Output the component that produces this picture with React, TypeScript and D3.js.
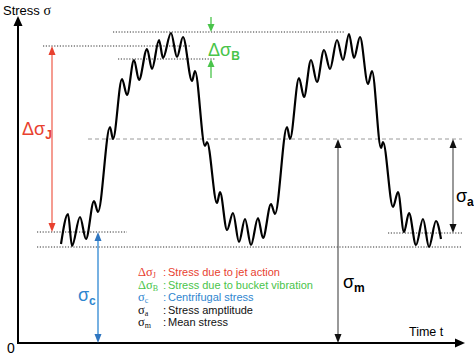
import React from "react";
import * as d3 from "d3";

// time (px offset from axis) and stress values
const curveTime = [43, 50, 54, 62, 68, 76, 80, 92, 95, 104, 109, 116, 121, 129, 134, 141, 145, 153, 159, 165, 174, 177, 187, 189, 199, 202, 209, 215, 221, 227, 233, 240, 245, 253, 257, 269, 272, 281, 286, 293, 299, 306, 312, 319, 325, 331, 336, 342, 350, 354, 363, 365, 375, 380, 386, 391, 398, 405, 411, 418, 423];
const curveStress = [99, 129, 97, 126, 104, 142, 131, 216, 204, 264, 248, 283, 263, 294, 274, 303, 285, 310, 286, 306, 262, 272, 197, 201, 140, 151, 113, 130, 101, 124, 98, 125, 105, 139, 129, 216, 204, 265, 246, 283, 261, 293, 274, 303, 283, 309, 285, 306, 259, 272, 195, 201, 136, 151, 111, 130, 98, 124, 96, 122, 104];

// reference levels
const levelStress = [311, 297, 284, 204, 111, 110, 96];
const levelStart = [95, 25, 100, 70, 19, 370, 19];
const levelEnd = [327, 172, 197, 444, 109, 444, 444];
const levelDashed = [false, false, false, true, false, false, false];

const legendSymbols = ["Δσ", "Δσ", "σ", "σ", "σ"];
const legendSubs = ["J", "B", "c", "a", "m"];
const legendTexts = [
  "Stress due to jet action",
  "Stress due to bucket vibration",
  "Centrifugal stress",
  "Stress amptlitude",
  "Mean stress",
];
const legendColors = ["#e8412f", "#49c44a", "#2f86cf", "#111", "#111"];

const W = 474;
const H = 356;

export default function App() {
  const x = d3.scaleLinear().domain([0, 445]).range([18, 463]);
  const y = d3.scaleLinear().domain([0, 320]).range([343, 23]);
  const pts = curveTime.map((t, i) => [t, curveStress[i]] as [number, number]);
  const line = d3
    .line<[number, number]>()
    .x((d) => x(d[0]))
    .y((d) => y(d[1]))
    .curve(d3.curveMonotoneX);

  const sans = "Liberation Sans, Arial, sans-serif";
  const serif = "Liberation Serif, Times New Roman, serif";

  const vArrow = (
    xp: number,
    y1: number,
    y2: number,
    color: string,
    headColor: string,
    top: boolean,
    bottom: boolean,
    sw = 1.3,
    hw = 4,
    hl = 8
  ) => (
    <g>
      <line x1={xp} x2={xp} y1={top ? y1 + hl - 1 : y1} y2={bottom ? y2 - hl + 1 : y2} stroke={color} strokeWidth={sw} />
      {top && <path d={`M${xp},${y1} L${xp - hw},${y1 + hl} L${xp + hw},${y1 + hl} Z`} fill={headColor} />}
      {bottom && <path d={`M${xp},${y2} L${xp - hw},${y2 - hl} L${xp + hw},${y2 - hl} Z`} fill={headColor} />}
    </g>
  );

  const y0 = y(0);
  return (
    <svg width={W} height={H} style={{ position: "absolute", left: 0, top: 0, background: "#fff" }}>
      {/* reference lines */}
      {levelStress.map((s, i) => (
        <line
          key={i}
          x1={x(levelStart[i])}
          x2={x(levelEnd[i])}
          y1={y(s)}
          y2={y(s)}
          stroke={levelDashed[i] ? "#9a9a9a" : "#333"}
          strokeWidth={1}
          strokeDasharray={levelDashed[i] ? "4 3" : "1.2 1.6"}
        />
      ))}

      {/* axes */}
      <line x1={x(0)} x2={x(0)} y1={y0 + 1} y2={24} stroke="#000" strokeWidth={2} />
      <path d={`M${x(0)},16 L${x(0) - 4.5},26 L${x(0) + 4.5},26 Z`} fill="#000" />
      <line x1={x(0) - 1} x2={456} y1={y0} y2={y0} stroke="#000" strokeWidth={2} />
      <path d={`M465,${y0} L455,${y0 - 4.5} L455,${y0 + 4.5} Z`} fill="#000" />

      {/* signal curve */}
      <path d={line(pts) || ""} fill="none" stroke="#000" strokeWidth={2.2} strokeLinejoin="round" />

      {/* ΔσJ red arrow */}
      {vArrow(52, y(297), y(111), "#f27b6c", "#e8412f", true, true, 1.5, 3.5, 9)}
      <text x={22} y={135} fill="#e8412f" fontFamily={sans} fontSize={18}>
        Δσ<tspan fontSize={12} dy={4} fontWeight="bold">J</tspan>
      </text>

      {/* ΔσB green arrows */}
      {vArrow(211, 17, y(311), "#49c44a", "#49c44a", false, true, 1.3, 3.5, 8)}
      {vArrow(211, y(284), 78, "#49c44a", "#49c44a", true, false, 1.3, 3.5, 8)}
      <text x={208} y={56} fill="#49c44a" fontFamily={sans} fontSize={18}>
        Δσ<tspan fontSize={12} dy={4} fontWeight="bold">B</tspan>
      </text>

      {/* σc blue arrow */}
      {vArrow(98, y(111), y0, "#4a97d8", "#2f76c0", true, true, 1.5, 3.5, 9)}
      <text x={78} y={301} fill="#2f86cf" fontFamily={sans} fontSize={18}>
        σ<tspan fontSize={12} dy={4} fontWeight="bold">c</tspan>
      </text>

      {/* σm arrow */}
      {vArrow(338, y(204), y0, "#555", "#111", true, true, 1.2, 3.5, 9)}
      <text x={343} y={288} fill="#000" fontFamily={sans} fontSize={18}>
        σ<tspan fontSize={12} dy={4} fontWeight="bold">m</tspan>
      </text>

      {/* σa arrow */}
      {vArrow(453, y(204), y(110), "#555", "#111", true, true, 1.2, 3.5, 9)}
      <text x={456} y={202} fill="#000" fontFamily={sans} fontSize={18}>
        σ<tspan fontSize={12} dy={4} fontWeight="bold">a</tspan>
      </text>

      {/* axis labels */}
      <text x={3} y={15} fontFamily={sans} fontSize={13} fill="#000">
        Stress <tspan fontFamily={serif} fontSize={14}>σ</tspan>
      </text>
      <text x={7} y={353} fontFamily={sans} fontSize={14} fill="#000">0</text>
      <text x={409} y={336} fontFamily={sans} fontSize={12.5} fill="#000">Time t</text>

      {/* legend */}
      {legendTexts.map((t, i) => (
        <g key={i} transform={`translate(0,${276 + i * 12.6})`}>
          <text x={138} y={0} fontFamily={serif} fontSize={12.5} fill={legendColors[i]}>
            {legendSymbols[i]}
            <tspan fontSize={8} dy={2}>{legendSubs[i]}</tspan>
          </text>
          <text x={163} y={0} fontFamily={sans} fontSize={11.5} fill={legendColors[i]}>:</text>
          <text x={168} y={0} fontFamily={sans} fontSize={11} fill={legendColors[i]}>{t}</text>
        </g>
      ))}
    </svg>
  );
}
